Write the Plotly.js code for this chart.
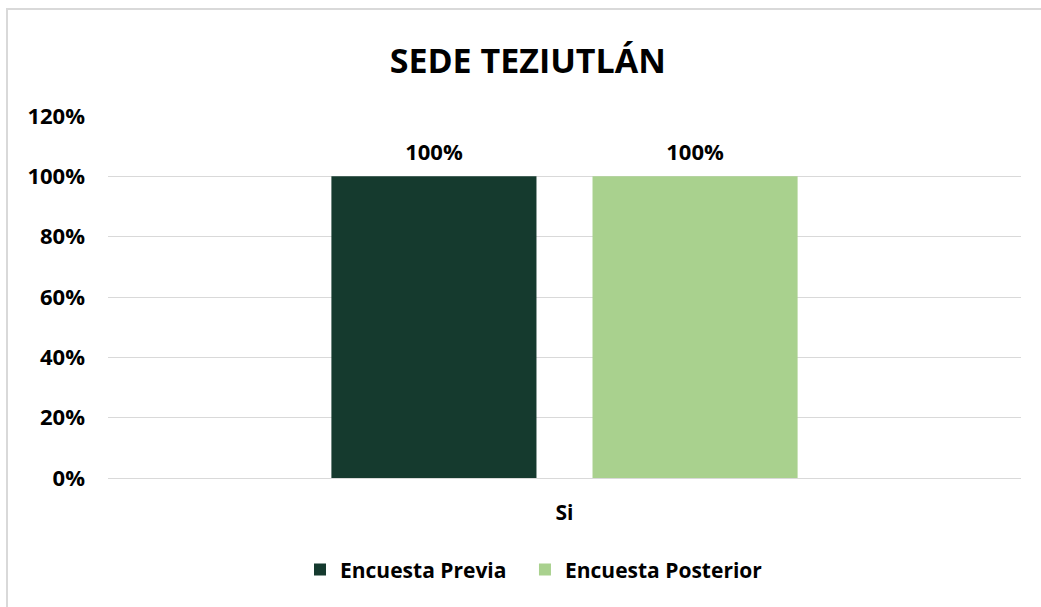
<!DOCTYPE html>
<html>
<head>
<meta charset="utf-8">
<script src="https://cdn.plot.ly/plotly-3.0.1.min.js"></script>
<style>
html,body{margin:0;padding:0;background:#fff;}
#wrap{position:relative;width:1041px;height:607px;overflow:hidden;}
#chart{position:absolute;left:0;top:0;width:1041px;height:607px;}
#frame{position:absolute;left:6px;top:8px;width:1100px;height:700px;border:2px solid #d9d9d9;box-sizing:border-box;pointer-events:none;}
</style>
</head>
<body>
<div id="wrap"><div id="chart"></div><div id="frame"></div></div>
<script>
const categories = ["Si"];
const seriesNames = ["Encuesta Previa", "Encuesta Posterior"];
const previa = [1.00];
const posterior = [1.00];
const colors = ["#153A2E", "#A9D18E"];

const font = "'Open Sans', Lato, 'Liberation Sans', sans-serif";

const series = [previa, posterior];
const legendIds = ["legend", "legend2"];
const bars = series.map((vals, i) => ({
  type: "bar",
  name: seriesNames[i],
  x: categories,
  y: vals,
  offsetgroup: "g" + i,
  legend: legendIds[i],
  marker: {color: colors[i]},
  hoverinfo: "skip"
}));
const labels = series.map((vals, i) => ({
  type: "scatter",
  mode: "markers+text",
  x: categories,
  y: vals,
  offsetgroup: "g" + i,
  showlegend: false,
  marker: {size: 16, opacity: 0},
  texttemplate: "%{y:.0%}",
  textposition: "top center",
  cliponaxis: false,
  textfont: {family: font, size: 22, color: "#000", weight: "bold"},
  hoverinfo: "skip"
}));

const legendBase = {orientation: "h", xanchor: "left", y: -0.254, yanchor: "middle", font: {family: font, size: 21, weight: "bold", color: "#000"}, itemwidth: 30, bgcolor: "rgba(0,0,0,0)"};

const layout = {
  width: 1041, height: 607,
  margin: {l: 108, r: 20, t: 116, b: 129},
  paper_bgcolor: "#fff", plot_bgcolor: "#fff",
  font: {family: font, color: "#000", size: 21, weight: "bold"},
  title: {text: "SEDE TEZIUTLÁN", font: {family: font, size: 34, color: "#000", weight: "bold"}, x: 0.507, xanchor: "center", y: 0.9, yanchor: "middle"},
  barmode: "group",
  scattermode: "group",
  bargap: 0.428,
  bargroupgap: 0.2146,
  scattergap: 0.428,
  xaxis: {type: "category", showgrid: false, zeroline: false, showline: false, ticks: "", ticklabelstandoff: 20, tickfont: {family: font, size: 21, weight: "bold", color: "#000"}},
  yaxis: {range: [0, 1.2], dtick: 0.2, tickformat: ".0%", showgrid: true, gridcolor: "#d9d9d9", gridwidth: 1, zeroline: true, zerolinecolor: "#d9d9d9", zerolinewidth: 1, showline: false, ticks: "", ticklabelstandoff: 22, tickfont: {family: font, size: 22, weight: "bold", color: "#000"}},
  showlegend: true,
  legend: Object.assign({}, legendBase, {x: 0.2103}),
  legend2: Object.assign({}, legendBase, {x: 0.4567})
};

Plotly.newPlot("chart", bars.concat(labels), layout, {displayModeBar: false, staticPlot: true});
</script>
</body>
</html>
